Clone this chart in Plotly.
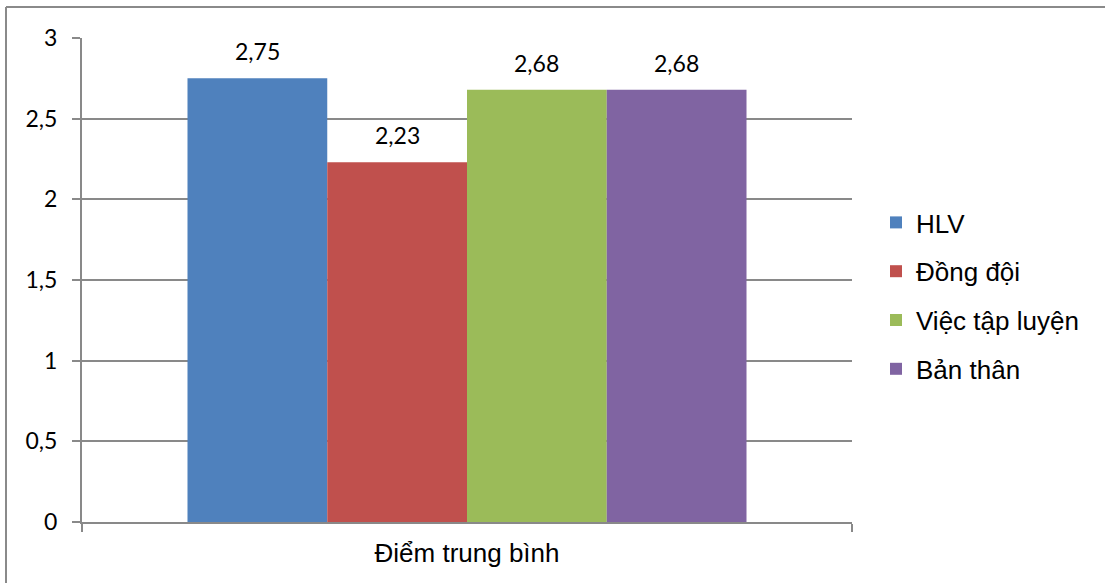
import plotly.graph_objects as go

# Chart data
category = ["Điểm trung bình"]
series_names = ["HLV", "Đồng đội", "Việc tập luyện", "Bản thân"]
series_values = [2.75, 2.23, 2.68, 2.68]
series_colors = ["#4F81BD", "#C0504D", "#9BBB59", "#8064A2"]
y_ticks = [0, 0.5, 1, 1.5, 2, 2.5, 3]

W, H = 1105, 583
M_L, M_R, M_T, M_B = 82, 253, 38, 61
BARGAP = 0.274
GRID = "#898989"

fig = go.Figure()
for i, (name, val, col) in enumerate(zip(series_names, series_values, series_colors)):
    fig.add_trace(go.Bar(
        x=category, y=[val], name=name,
        marker=dict(color=col, line=dict(width=0)),
        legendgroup=f"g{i}",
    ))

# value labels above each bar
plot_w = W - M_L - M_R
bar_px = plot_w * (1 - BARGAP) / len(series_values)
for i, val in enumerate(series_values):
    fig.add_annotation(
        x=category[0], y=val, xref="x", yref="y",
        text=f"{val:.2f}".replace(".", ","),
        showarrow=False, yanchor="middle", yshift=27,
        xshift=(i - (len(series_values) - 1) / 2) * bar_px,
        font=dict(family="Lato", size=23, color="#000000"),
    )

# outer frame (left and top edges)
def px_x(p):
    return (p - M_L) / plot_w

def px_y(p):
    return (H - M_B - p) / (H - M_T - M_B)

fig.add_shape(type="line", xref="paper", yref="paper",
              x0=px_x(6), x1=px_x(6), y0=px_y(7), y1=px_y(590),
              line=dict(color="#8a8a8a", width=2))
fig.add_shape(type="line", xref="paper", yref="paper",
              x0=px_x(6), x1=px_x(1110), y0=px_y(7), y1=px_y(7),
              line=dict(color="#8a8a8a", width=2))

fig.update_layout(
    width=W, height=H,
    margin=dict(l=M_L, r=M_R, t=M_T, b=M_B),
    paper_bgcolor="white", plot_bgcolor="white",
    separators=",.",
    barmode="group", bargap=BARGAP, bargroupgap=0,
    showlegend=True,
    legend=dict(
        x=px_x(876), xanchor="left", y=px_y(199), yanchor="top",
        font=dict(family="Liberation Sans", size=26, color="#000000"),
        tracegroupgap=12, bgcolor="rgba(0,0,0,0)",
    ),
    xaxis=dict(
        type="category", showgrid=False,
        showline=True, linecolor=GRID, linewidth=2,
        ticks="outside", tickson="boundaries", ticklen=8,
        tickcolor=GRID, tickwidth=2,
        tickfont=dict(family="Liberation Sans", size=26, color="#000000"),
        ticklabelstandoff=7,
    ),
    yaxis=dict(
        range=[0, 3], tickvals=y_ticks,
        showgrid=True, gridcolor=GRID, gridwidth=1.5,
        showline=True, linecolor=GRID, linewidth=2,
        ticks="outside", ticklen=8, tickcolor=GRID, tickwidth=2,
        tickfont=dict(family="Lato", size=23, color="#000000"),
        ticklabelstandoff=10, zeroline=False,
    ),
)

fig.write_html("out.html")
